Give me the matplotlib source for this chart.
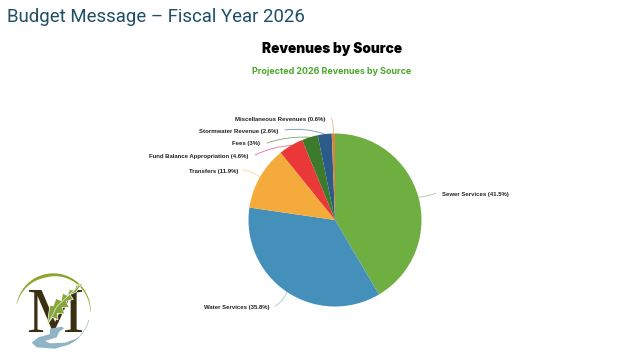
# -*- coding: utf-8 -*-
import numpy as np
import matplotlib
matplotlib.use('Agg')
import matplotlib.pyplot as plt
from matplotlib.patches import Polygon

sources = ['Sewer Services', 'Water Services', 'Transfers', 'Fund Balance Appropriation',
           'Fees', 'Stormwater Revenue', 'Miscellaneous Revenues']
percents = [41.5, 35.8, 11.9, 4.6, 3, 2.6, 0.6]
colors = ['#6fae40', '#4590ba', '#f5ab3c', '#ea3838', '#3e7a2b', '#2c5b8a', '#d9863c']
line_colors = ['#a9c99a', '#a8c6d8', '#f0d8a0', '#e8708a', '#7aa86a', '#6f94b0', '#f0b090']

# where each label sits, in pixels from the top left
label_pos = [(442, 194.5), (270, 307), (238, 171.5), (248, 156.5), (260, 144), (278, 131.5), (325, 119.5)]
line_start = [(436, 193), (275, 306), (243, 170), (255, 155), (267, 143), (285, 130), (331.5, 118)]
line_bend = [-0.1, 0.2, -0.15, -0.1, -0.1, -0.12, -0.1]

cx, cy, r = 335, 220, 86.5

fig = plt.figure(figsize=(6.4, 3.6), dpi=100, facecolor='white')

# overlay in pixel coordinates for texts, leader lines and logo
over = fig.add_axes([0, 0, 1, 1])
over.set_xlim(0, 640)
over.set_ylim(360, 0)
over.axis('off')

pie_ax = fig.add_axes([(cx - r) / 640, 1 - (cy + r) / 360, 2 * r / 640, 2 * r / 360])
pie_ax.pie(percents, colors=colors, startangle=90, counterclock=False, radius=1,
           wedgeprops=dict(linewidth=0))
pie_ax.set_xlim(-1, 1)
pie_ax.set_ylim(-1, 1)
pie_ax.set_zorder(1)

over.text(7, 17, 'Budget Message \u2013 Fiscal Year 2026', family='Roboto', fontsize=13.4,
          color='#1f4e66', va='center', ha='left')
over.text(332, 49, 'Revenues by Source', family='Inter', fontweight='black', fontsize=9.9,
          color='black', va='center', ha='center')
over.text(332, 71.5, 'Projected 2026 Revenues by Source', family='Inter', fontweight='bold',
          fontsize=6.45, color='#4ba82a', va='center', ha='center')

# labels and leader lines, the end on the pie comes from the slice angle
total = sum(percents)
start = 0
for i, name in enumerate(sources):
    mid = (start + percents[i] / 2) / total * 2 * np.pi
    start += percents[i]
    edge = (cx + r * np.sin(mid), cy - r * np.cos(mid))
    x, y = label_pos[i]
    ha = 'left' if np.sin(mid) > 0 else 'right'
    over.text(x, y, '%s (%s%%)' % (name, percents[i]), family='Liberation Sans', fontweight='bold',
              fontsize=4.3, color='#222222', va='center', ha=ha)
    over.annotate('', xy=edge, xytext=line_start[i],
                  arrowprops=dict(arrowstyle='-', color=line_colors[i], lw=0.6, shrinkA=0, shrinkB=0,
                                  connectionstyle='arc3,rad=%s' % line_bend[i]))


# logo, outline points read in the 3x zoom and divided by 3
def z(points):
    return [(px / 3, 260 + py / 3) for px, py in points]


t = np.linspace(np.radians(190), np.radians(362), 60)
outer = [(160 + 112 * np.cos(a), 152 + 112 * np.sin(a)) for a in t]
thick = np.interp(t, [t[0], t[22], t[-1]], [1, 10, 1])
inner = [(160 + (112 - d) * np.cos(a), 152 + (112 - d) * np.sin(a)) for a, d in zip(t, thick)]
over.add_patch(Polygon(z(outer + inner[::-1]), closed=True, fc='#8aa62c', ec='none'))

t = np.linspace(np.radians(15), np.radians(75), 20)
over.plot(*zip(*z([(160 + 110 * np.cos(a), 152 + 110 * np.sin(a)) for a in t])), color='#9fb8c4', lw=0.5)

over.text(z([(165, 0)])[0][0], 260 + 216 / 3, 'M', family='Liberation Serif', fontsize=46,
          color='#3b2f12', ha='center', va='baseline')

leaf = [(250, 68), (228, 78), (222, 92), (208, 88), (205, 108), (188, 100), (184, 122), (168, 116),
        (160, 138), (150, 135), (142, 192), (158, 172), (174, 180), (172, 160), (194, 162), (186, 142),
        (208, 142), (198, 124), (220, 118), (210, 104), (228, 96)]
over.add_patch(Polygon(z(leaf), closed=True, fc='#84a63a', ec='white', lw=0.5, zorder=3))
over.plot(*zip(*z([(142, 196), (170, 140), (240, 74)])), color='#e8efd8', lw=0.5, zorder=4)

river = [(185, 200), (150, 206), (150, 222), (115, 232), (95, 248), (110, 262), (165, 266), (210, 252),
         (240, 232), (195, 248), (150, 250), (135, 243), (170, 232), (178, 215), (192, 205)]
over.add_patch(Polygon(z(river), closed=True, fc='#8fb4c6', ec='none', zorder=3))

fig.savefig('out.png', dpi=100)
